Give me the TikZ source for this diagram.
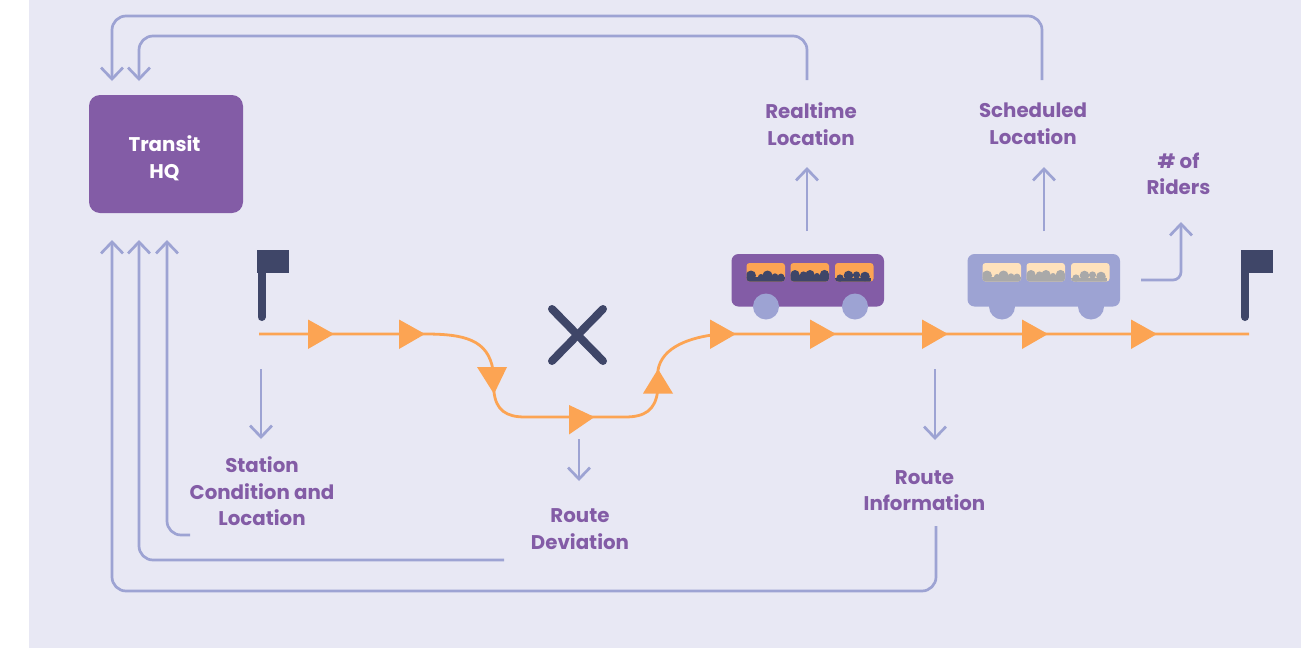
\documentclass[tikz,border=0pt]{standalone}
\usepackage{fontspec}
\setmainfont{Poppins}
\usetikzlibrary{arrows.meta}
\definecolor{bgc}{HTML}{E8E8F4}
\definecolor{purp}{HTML}{835CA6}
\definecolor{lav}{HTML}{9DA3D3}
\definecolor{org}{HTML}{FCA453}
\definecolor{navy}{HTML}{3F4668}
\definecolor{cream}{HTML}{FFE2BC}
\definecolor{greyp}{HTML}{A9A9A9}
\tikzset{
  flow/.style={draw=lav,line width=2.7pt,rounded corners=14pt,-{Straight Barb[length=11.5pt,width=22pt,line width=2.7pt]}},
  lbl/.style={text=purp,font=\fontsize{19.8}{26.5}\selectfont\bfseries,align=center,inner sep=0pt},
  route/.style={draw=org,line width=2.8pt},
  tri/.style={fill=org,draw=none},
}
\newcommand{\busdraw}[5]{%
  % #1 x-offset, #2 body, #3 wheel, #4 window, #5 people
  \begin{scope}[shift={(#1,0)}]
    \fill[#2,rounded corners=7pt] (731.5,254) rectangle (884,306.5);
    \fill[#3] (766,306.5) circle (13);
    \fill[#3] (855,306.5) circle (13);
    \begin{scope}
      \clip[rounded corners=3pt] (746.5,263) rectangle ++(38.5,18.5)
        (790.5,263) rectangle ++(38.5,18.5)
        (835,263) rectangle ++(38.5,18.5);
      \fill[#4] (746,262) rectangle (874,282);
      \fill[#5] (746,276.5) rectangle (785,282);
      \fill[#5] (790,274.5) rectangle (829,282);
      \fill[#5] (835,277.5) rectangle (870.5,282);
      \foreach \bx/\by/\br in {751/275.5/5,761/277/3,767.5/275.5/5,775/276.5/3.2,781/277/3.4,
        795/274.5/4.5,803.5/275/3.6,810/274.5/4.5,817/276/3,824.5/274.5/4.6,
        840/278/3.6,848.5/275.5/4.8,856.5/275/3.6,865/276.5/4.8}
        \fill[#5] (\bx,\by) circle (\br);
    \end{scope}
  \end{scope}}
\begin{document}
\begin{tikzpicture}[x=1pt,y=-1pt]
\useasboundingbox (0,0) rectangle (1310,648);
\fill[bgc] (29,0) rectangle (1301,648);

% Transit HQ
\node[fill=purp,rounded corners=11pt,minimum width=154pt,minimum height=118pt,inner sep=0pt] (hq) at (166,154) {};
\node[text=white,font=\fontsize{19.8}{26.5}\selectfont\bfseries,align=center,inner sep=0pt] (hqt) at (164.5,158.5) {Transit\\HQ};

% Labels
\node[lbl] (rt) at (811,124) {Realtime\\Location};
\node[lbl] (sc) at (1033,124) {Scheduled\\Location};
\node[lbl] (rd) at (1178.5,174) {\# of\\Riders};
\node[lbl] (st) at (262,491.5) {Station\\Condition and\\Location};
\node[lbl] (dv) at (580,529) {Route\\Deviation};
\node[lbl] (ri) at (924.5,490.5) {Route\\Information};

% Route
\coordinate (rs) at (259,334);
\coordinate (re) at (1249,334);
\draw[route] (rs) -- (425,334) .. controls (465,334) and (488,340) .. (493,370)
  -- (494,392) .. controls (496,410) and (506,417) .. (525,417)
  -- (625,417) .. controls (645,417) and (655,410) .. (657.5,392)
  -- (658,370) .. controls (662,347) and (690,337) .. (720,334) -- (re);
\foreach \tx in {308,399,710,810,922,1022,1131}
  \fill[tri] (\tx,319.5) -- (\tx,349) -- (\tx+26,334) -- cycle;
\fill[tri] (477,367) -- (507,367) -- (494,394) -- cycle;
\fill[tri] (569,405) -- (569,434.5) -- (594.5,417) -- cycle;
\fill[tri] (643,393.5) -- (673,393.5) -- (658,369) -- cycle;

% Cross
\draw[navy,line width=8pt,line cap=round] (552,309) -- (603,361);
\draw[navy,line width=8pt,line cap=round] (603,309) -- (552,361);

% Flags
\draw[navy,line width=8pt,line cap=round] (261.5,260) -- (261.5,317);
\fill[navy] (257,250) rectangle (289,273);
\draw[navy,line width=8pt,line cap=round] (1245,260) -- (1245,317);
\fill[navy] (1241,250) rectangle (1273,273);

% Buses
\busdraw{0}{purp}{lav}{org}{navy}
\busdraw{236}{lav}{lav}{cream}{greyp}

% Connectors
\coordinate (hqa) at (112,81);
\coordinate (hqb) at (139,81);
\coordinate (hqc) at (112,240);
\coordinate (hqd) at (139,240);
\coordinate (hqe) at (167,240);
\coordinate (scs) at (1042,80);
\coordinate (rts) at (807,80);
\coordinate (sts) at (190,535);
\coordinate (dvs) at (504,560);
\coordinate (ris) at (936,526);
\draw[flow] (scs) |- (112,16) -- (hqa);
\draw[flow] (rts) |- (139,36) -- (hqb);
\draw[flow] (sts) -| (hqe);
\draw[flow] (dvs) -| (hqd);
\draw[flow] (ris) |- (112,591) -- (hqc);
\coordinate (a1) at (261,369); \coordinate (a1e) at (261,439);
\coordinate (a2) at (579,439); \coordinate (a2e) at (579,481);
\coordinate (a3) at (935,369); \coordinate (a3e) at (935,440);
\coordinate (a4) at (807,231); \coordinate (a4e) at (807,167);
\coordinate (a5) at (1044,231); \coordinate (a5e) at (1044,167);
\coordinate (a6) at (1141,280); \coordinate (a6e) at (1181,222);
\draw[flow] (a1) -- (a1e);
\draw[flow] (a2) -- (a2e);
\draw[flow] (a3) -- (a3e);
\draw[flow] (a4) -- (a4e);
\draw[flow] (a5) -- (a5e);
\draw[flow,rounded corners=8pt] (a6) -| (a6e);
\end{tikzpicture}
\end{document}
